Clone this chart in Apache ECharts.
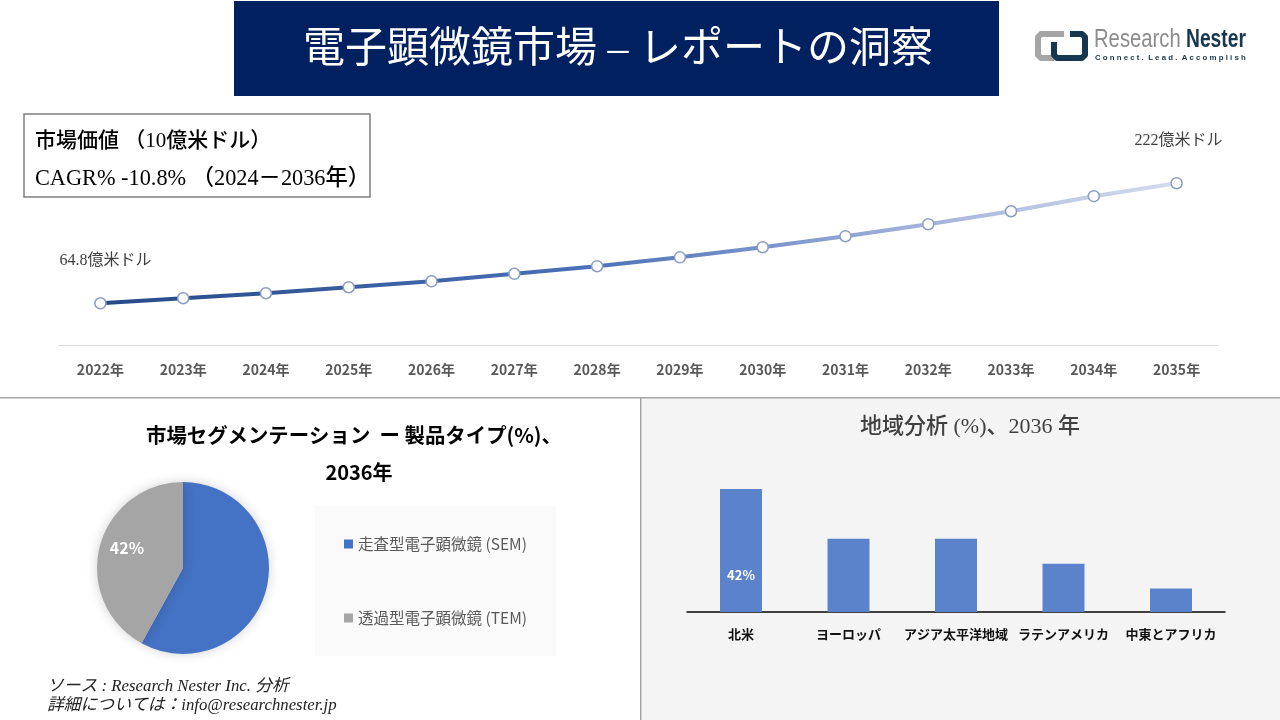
<!DOCTYPE html>
<html><head><meta charset="utf-8">
<style>html,body{margin:0;padding:0;background:#fff}#c{width:1280px;height:720px}</style>
<script src="https://cdn.jsdelivr.net/npm/echarts@6/dist/echarts.min.js"></script>
</head><body><div id="c"></div>
<script>
const years = ['2022年','2023年','2024年','2025年','2026年','2027年','2028年','2029年','2030年','2031年','2032年','2033年','2034年','2035年'];
const marketValues = [64.8,71.4,77.9,85.8,93.6,103.4,113.3,125,138.2,152.6,168.3,185.3,205,222];
const segmentNames = ['走査型電子顕微鏡 (SEM)','透過型電子顕微鏡 (TEM)'];
const segmentValues = [58,42];
const regions = ['北米','ヨーロッパ','アジア太平洋地域','ラテンアメリカ','中東とアフリカ'];
const regionValues = [42,25,25,16.5,8];
const SERIF = '"Liberation Serif","Noto Sans CJK JP",serif';
const SANS = '"Noto Sans CJK JP","Noto Sans",sans-serif';
const lineGrad = new echarts.graphic.LinearGradient(101,0,1177,0,[
 {offset:0,color:'#264a86'},{offset:.45,color:'#4a70b8'},{offset:.75,color:'#9fb0d8'},{offset:1,color:'#d6dcee'}],true);
const T=(x,y,text,o={})=>({type:'text',x,y,silent:true,z:o.z||5,scaleX:o.sx||1,originX:0,style:{text,fill:o.fill||'#000',font:o.font,textAlign:o.align||'left',textVerticalAlign:'middle'}});
const P=(points,stroke,w)=>({type:'polyline',silent:true,z:5,shape:{points},style:{fill:null,stroke,lineWidth:w,lineJoin:'round',lineCap:'butt'}});
const chart = echarts.init(document.getElementById('c'),null,{renderer:'canvas'});
chart.setOption({
 animation:false,backgroundColor:'#fff',
 graphic:{elements:[
  {type:'rect',shape:{x:641,y:398,width:639,height:322},style:{fill:'#f4f4f4'},z:-10,silent:true},
  {type:'rect',shape:{x:0,y:397,width:1280,height:1.5},style:{fill:'#a6a6a6'},z:-9,silent:true},
  {type:'rect',shape:{x:640,y:397,width:1.5,height:323},style:{fill:'#a6a6a6'},z:-9,silent:true},
  {type:'rect',shape:{x:234,y:1,width:765,height:95},style:{fill:'#002060'},z:-9,silent:true},
  T(303,51,'電子顕微鏡市場 – レポートの洞察',{fill:'#fff',font:'400 42px '+SERIF}),
  {type:'rect',shape:{x:24,y:114,width:346,height:83},style:{fill:'#fff',stroke:'#7f7f7f',lineWidth:1.5},z:-8,silent:true},
  T(35,141,'市場価値 （10億米ドル）',{font:'500 21px '+SERIF}),
  T(35,179,'CAGR% -10.8% （2024－2036年）',{font:'500 22.3px '+SERIF}),
  // logo
  P([[1064,34],[1041,34],[1038,37],[1038,55],[1041,58],[1054,58]],'#a5a5a5',6),
  P([[1070,34],[1082,34],[1085,37],[1085,55],[1082,58],[1057,58],[1054,55],[1054,42]],'#17364f',6),
  T(1094,40,'Research',{fill:'#8c8c8c',font:'500 25px "Liberation Sans",sans-serif',sx:.81}),
  T(1186,40,'Nester',{fill:'#17364f',font:'700 25px "Liberation Sans",sans-serif',sx:.77}),
  T(1095,58,'C o n n e c t .  L e a d .  A c c o m p l i s h',{fill:'#17364f',font:'700 8px "Liberation Sans",sans-serif',sx:.98}),
  // panel titles
  T(146,435,'市場セグメンテーション  ー 製品タイプ(%)、',{font:'700 20.4px '+SANS}),
  T(359,472,'2036年',{font:'700 20px '+SANS,align:'center'}),
  T(970,427,'地域分析 (%)、2036 年',{fill:'#404040',font:'500 22px '+SERIF,align:'center'}),
  {type:'rect',shape:{x:315,y:506,width:241,height:150},style:{fill:'#fafafa'},z:-8,silent:true},
  T(47,687,'ソース : Research Nester Inc. 分析',{fill:'#222',font:'italic 16.8px '+SERIF}),
  T(47,706,'詳細については：info@researchnester.jp',{fill:'#222',font:'italic 16.8px '+SERIF})
 ]},
 legend:{data:segmentNames,orient:'vertical',left:344,top:533,padding:0,itemWidth:9,itemHeight:9,itemGap:52,icon:'rect',
  textStyle:{fontFamily:SANS,fontSize:15.5,color:'#595959',lineHeight:22},selectedMode:false},
 grid:[
  {left:59,right:62,top:150,bottom:374.5},
  {left:687.25,right:55.25,top:470,bottom:108}
 ],
 xAxis:[
  {gridIndex:0,type:'category',data:years,axisTick:{show:false},axisLine:{lineStyle:{color:'#d9d9d9',width:1}},
   axisLabel:{fontFamily:SANS,fontSize:14,fontWeight:700,color:'#595959',margin:17}},
  {gridIndex:1,type:'category',data:regions,axisTick:{show:false},axisLine:{lineStyle:{color:'#404040',width:2}},
   axisLabel:{fontFamily:SANS,fontSize:13,fontWeight:700,color:'#111',margin:16,interval:0}}
 ],
 yAxis:[
  {gridIndex:0,type:'value',min:9.5,max:265.5,show:false},
  {gridIndex:1,type:'value',min:0,max:48.5,show:false}
 ],
 series:[
  {type:'line',xAxisIndex:0,yAxisIndex:0,z:3,
   data:marketValues.map((v,i)=>{
     const first=i===0,last=i===marketValues.length-1;
     return {value:v,label:{show:first||last,offset:[first?5:2,0]}};
   }),
   symbol:'circle',symbolSize:11,
   lineStyle:{width:4,color:lineGrad},
   itemStyle:{color:'#fff',borderColor:'#8c9dc2',borderWidth:1.5},
   label:{position:'top',distance:28,fontFamily:SERIF,fontSize:16,color:'#404040',
     formatter:p=>p.dataIndex===0?'64.8億米ドル':'222億米ドル'}},
  {type:'pie',center:[183,568],radius:[0,86],startAngle:90,clockwise:true,
   data:segmentNames.map((n,i)=>({name:n,value:segmentValues[i]})),
   color:['#4472c4','#a5a5a5'],
   itemStyle:{shadowBlur:12,shadowColor:'rgba(0,0,0,0.18)'},
   label:{show:true,position:'inside',offset:[-11.5,-9],fontFamily:SANS,fontSize:16,fontWeight:700,color:'#fff',
     formatter:p=>p.dataIndex===1?p.value+'%':''},
   labelLine:{show:false},emphasis:{disabled:true}},
  {type:'bar',xAxisIndex:1,yAxisIndex:1,data:regionValues,barWidth:42,
   itemStyle:{color:'#5b83cc'},
   label:{show:true,position:'insideBottom',distance:30,fontFamily:SANS,fontSize:13,fontWeight:700,color:'#fff',
     formatter:p=>p.dataIndex===0?p.value+'%':''}}
 ]
});
</script></body></html>
